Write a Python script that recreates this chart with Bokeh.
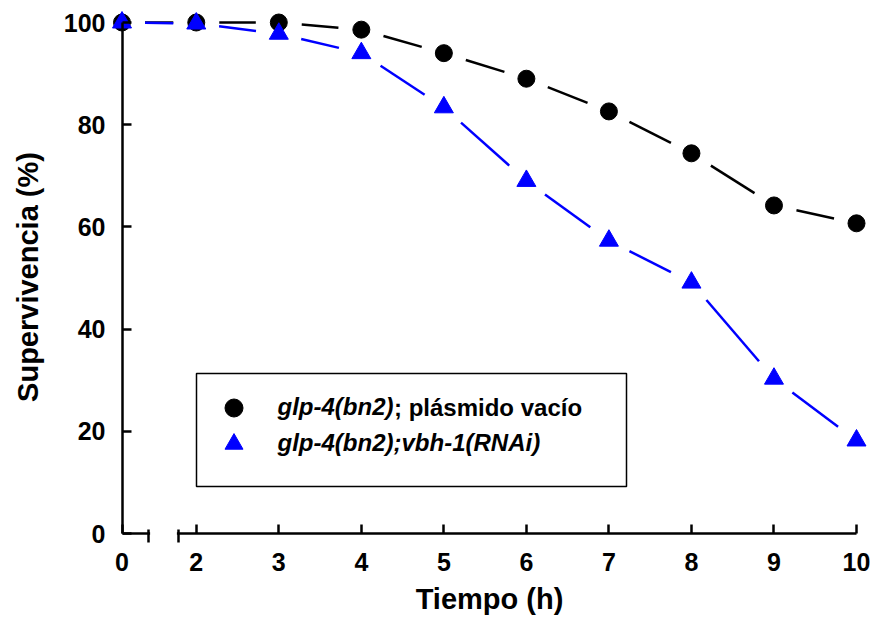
import numpy as np
from bokeh.plotting import figure
from bokeh.models import (Range1d, FixedTicker, CustomJSTickFormatter, BoxAnnotation,
                          Legend, LegendItem, Label, LinearAxis)
from bokeh.embed import file_html
from bokeh.resources import INLINE

# ---------------- data ----------------
time_h = [0, 2, 3, 4, 5, 6, 7, 8, 9, 10]
control_pct = [100, 100, 100, 98.6, 94.0, 89.0, 82.6, 74.4, 64.2, 60.7]
rnai_pct = [100, 99.8, 97.8, 94.0, 83.4, 69.0, 57.3, 49.1, 30.3, 18.2]
y_ticks = [0, 20, 40, 60, 80, 100]
x_tick_labels = ["0", "2", "3", "4", "5", "6", "7", "8", "9", "10"]
label_control_italic = "glp-4(bn2)"
label_control_rest = "; plásmido vacío"
label_rnai = "glp-4(bn2);vbh-1(RNAi)"
x_title = "Tiempo (h)"
y_title = "Supervivencia (%)"

# ---------------- layout constants (pixels) ----------------
W, H = 875, 620
L, R, T, B = 110, 868, 8, 545          # frame edges on the canvas
BREAK_POS = 1.1                        # axis position where t = 0 is drawn
X0_PX, X10_PX = 121.5, 856.0           # canvas x of axis positions BREAK_POS and 10
Y0_PX, Y100_PX = 533.0, 22.0           # canvas y of 0 % and 100 %
UX = (X10_PX - X0_PX) / (10 - BREAK_POS)
UY = (Y0_PX - Y100_PX) / 100.0

def px_to_x(px):
    return BREAK_POS + (px - X0_PX) / UX

def px_to_y(py):
    return (Y0_PX - py) / UY

X_START, X_END = px_to_x(L), px_to_x(R)
Y_START, Y_END = px_to_y(B), px_to_y(T)

FONT = "Liberation Sans"

x_pos = np.where(np.asarray(time_h) == 0, BREAK_POS, np.asarray(time_h, float))

p = figure(width=W, height=H, output_backend="svg", toolbar_location=None,
           x_range=Range1d(X_START, X_END), y_range=Range1d(Y_START, Y_END),
           min_border_left=L, min_border_right=W - R, min_border_top=T,
           min_border_bottom=H - B)
p.outline_line_color = None
p.grid.visible = False
p.background_fill_color = "white"
p.border_fill_color = "white"

x_ticker = FixedTicker(ticks=list(x_pos))
x_formatter = CustomJSTickFormatter(
    args=dict(pos=list(x_pos), labs=x_tick_labels),
    code="""
    let best = 0;
    for (let i = 0; i < pos.length; i++) {
        if (Math.abs(pos[i] - tick) < Math.abs(pos[best] - tick)) best = i;
    }
    return labs[best];
    """)
y_ticker = FixedTicker(ticks=y_ticks)

# ---- label axes (outside the frame): only tick labels and titles ----
def label_axis(ax):
    ax.axis_line_color = None
    ax.major_tick_line_color = None
    ax.minor_tick_line_color = None
    ax.major_tick_in = 0
    ax.major_tick_out = 0
    ax.major_label_text_font = FONT
    ax.major_label_text_font_size = "25px"
    ax.major_label_text_font_style = "bold"
    ax.major_label_text_color = "black"
    ax.axis_label_text_font = FONT
    ax.axis_label_text_font_size = "29px"
    ax.axis_label_text_font_style = "bold"
    ax.axis_label_text_color = "black"

xa = p.xaxis[0]
label_axis(xa)
xa.bounds = (BREAK_POS, px_to_x(866))
xa.ticker = x_ticker
xa.formatter = x_formatter
xa.major_label_standoff = 7
xa.axis_label = x_title
xa.axis_label_standoff = 9

ya = p.yaxis[0]
label_axis(ya)
ya.bounds = (0, 100)
ya.ticker = y_ticker
ya.major_label_standoff = 5
ya.axis_label = y_title
ya.axis_label_standoff = 17

# ---- line axes (inside the frame): axis lines and inward ticks ----
def line_axis(ax):
    ax.axis_line_width = 2.5
    ax.axis_line_color = "black"
    ax.major_tick_line_width = 2.5
    ax.major_tick_line_color = "black"
    ax.major_tick_in = 9
    ax.major_tick_out = 0
    ax.minor_tick_line_color = None
    ax.major_label_text_alpha = 0
    ax.major_label_text_font_size = "1px"

x_line = LinearAxis(fixed_location=0, bounds=(BREAK_POS, 10), ticker=x_ticker)
line_axis(x_line)
p.add_layout(x_line, "below")
y_line = LinearAxis(fixed_location=BREAK_POS, bounds=(0, 100), ticker=y_ticker)
line_axis(y_line)
p.add_layout(y_line, "left")

# axis break on the x axis
p.add_layout(BoxAnnotation(left=px_to_x(149.6), right=px_to_x(176.4),
                           bottom=px_to_y(Y0_PX + 6), top=px_to_y(Y0_PX - 6),
                           fill_color="white", fill_alpha=1.0, line_color=None))
cap_x = [px_to_x(148), px_to_x(178)]
p.segment(x0=cap_x, x1=cap_x, y0=[px_to_y(Y0_PX - 4)] * 2, y1=[px_to_y(Y0_PX + 9)] * 2,
          line_color="black", line_width=2.5)

# ---------------- series ----------------
GAP_PX = 23.0

def gapped(xs, ys):
    xs = np.asarray(xs, float)
    ys = np.asarray(ys, float)
    dx, dy = np.diff(xs), np.diff(ys)
    length = np.hypot(dx * UX, dy * UY)
    f = GAP_PX / length
    return (xs[:-1] + dx * f, ys[:-1] + dy * f, xs[1:] - dx * f, ys[1:] - dy * f)

cx0, cy0, cx1, cy1 = gapped(x_pos, control_pct)
p.segment(x0=cx0, y0=cy0, x1=cx1, y1=cy1, line_color="black", line_width=2.5)
r_ctrl = p.scatter(x_pos, control_pct, marker="circle", size=17,
                   fill_color="black", line_color="black")

bx0, by0, bx1, by1 = gapped(x_pos, rnai_pct)
p.segment(x0=bx0, y0=by0, x1=bx1, y1=by1, line_color="#0000ff", line_width=2.5)
r_rnai = p.scatter(x_pos, rnai_pct, marker="triangle", size=19,
                   fill_color="#0000ff", line_color="#0000ff")

# ---------------- legend ----------------
BOX_L, BOX_R, BOX_T, BOX_B = 196, 626, 373, 486
p.add_layout(BoxAnnotation(left=px_to_x(BOX_L), right=px_to_x(BOX_R),
                           top=px_to_y(BOX_T), bottom=px_to_y(BOX_B),
                           fill_color="white", fill_alpha=1.0,
                           line_color="black", line_alpha=1.0, line_width=1.5))

GLYPH = 45
KEY_CX = 233
ROW_CY = [407, 443]
STANDOFF = 22
for item_label, rend, cy in [(label_control_italic, r_ctrl, ROW_CY[0]),
                             (label_rnai, r_rnai, ROW_CY[1])]:
    lg = Legend(items=[LegendItem(label=item_label, renderers=[rend])],
                location=(KEY_CX - GLYPH / 2 - L, B - (cy + GLYPH / 2)),
                padding=0, spacing=0, margin=0, glyph_width=GLYPH, glyph_height=GLYPH,
                label_standoff=STANDOFF, label_height=34,
                label_text_font=FONT, label_text_font_size="24px",
                label_text_font_style="bold italic", label_text_color="black",
                border_line_color=None, background_fill_alpha=0)
    p.add_layout(lg)

p.add_layout(Label(x=px_to_x(KEY_CX + GLYPH / 2 + STANDOFF + 116), y=px_to_y(ROW_CY[0]),
                   text=label_control_rest, text_font=FONT, text_font_size="24px",
                   text_font_style="bold", text_color="black", text_baseline="middle",
                   text_align="left", level="overlay"))

open("out.html", "w").write(file_html(p, INLINE))
